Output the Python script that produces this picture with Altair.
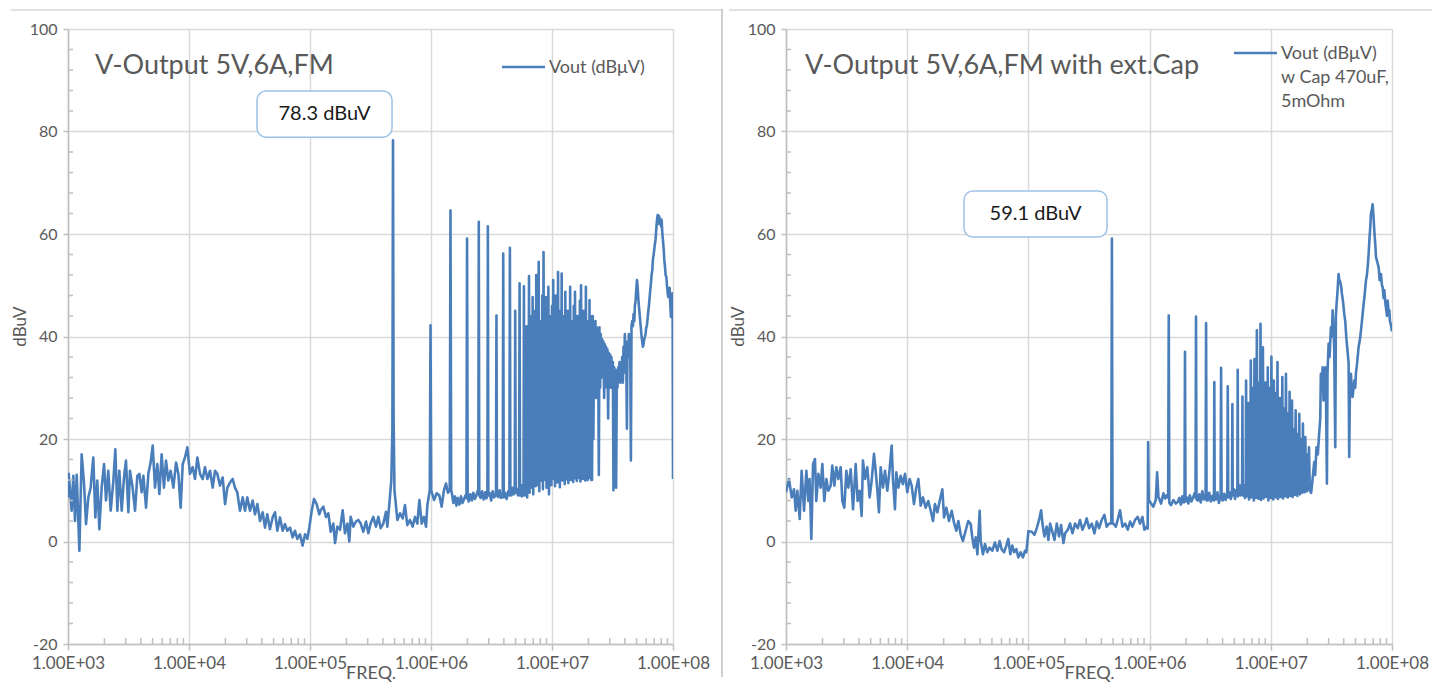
import altair as alt
import pandas as pd

FONT = "Lato"
TXT = "#595959"
BLUE = "#4a7ebb"
GRID = "#d9d9d9"
AXC = "#bfbfbf"
W_L, W_R, H = 605, 606, 615

# ---------------- axis tick values ----------------
x_decades = [1e3, 1e4, 1e5, 1e6, 1e7, 1e8]
x_minor = [2e3, 3e3, 4e3, 5e3, 6e3, 7e3, 8e3, 9e3,
           2e4, 3e4, 4e4, 5e4, 6e4, 7e4, 8e4, 9e4,
           2e5, 3e5, 4e5, 5e5, 6e5, 7e5, 8e5, 9e5,
           2e6, 3e6, 4e6, 5e6, 6e6, 7e6, 8e6, 9e6,
           2e7, 3e7, 4e7, 5e7, 6e7, 7e7, 8e7, 9e7]
y_major = [-20, 0, 20, 40, 60, 80, 100]
y_minor = [-16, -12, -8, -4, 4, 8, 12, 16, 24, 28, 32, 36, 44, 48, 52, 56,
           64, 68, 72, 76, 84, 88, 92, 96]

# ---------------- LEFT chart: (log10 freq, dBuV) ----------------
left_1k_100k = [(3.000,8.6),(3.006,13.2),(3.030,6.0),(3.044,12.8),(3.058,4.0),(3.072,13.0),(3.094,-1.8),(3.113,17.0),
    (3.132,11.5),(3.149,3.4),(3.168,8.6),(3.187,10.5),(3.209,16.4),(3.226,4.7),(3.242,11.9),(3.259,2.4),(3.278,10.5),
    (3.298,15.1),(3.314,8.0),(3.333,13.8),(3.353,6.0),(3.375,11.9),(3.391,18.0),(3.408,6.0),(3.424,13.8),(3.444,6.0),
    (3.463,12.5),(3.479,15.8),(3.499,5.7),(3.512,13.8),(3.534,10.5),(3.554,6.0),(3.573,12.8),(3.590,13.2),(3.609,9.6),
    (3.623,12.8),(3.645,6.6),(3.664,13.2),(3.683,15.4),(3.700,18.7),(3.719,10.5),(3.738,15.1),(3.755,9.3),(3.774,17.0),
    (3.793,10.5),(3.810,15.8),(3.829,11.9),(3.848,13.8),(3.871,10.5),(3.893,15.4),(3.912,13.2),(3.931,6.6),(3.948,15.1),
    (3.967,16.4),(3.986,18.4),(4.008,13.2),(4.030,14.5),(4.050,12.2),(4.069,16.4),(4.091,13.2),(4.113,12.2),(4.132,14.5),
    (4.152,12.2),(4.174,13.8),(4.196,10.5),(4.215,13.8),(4.234,13.2),(4.256,10.9),(4.278,12.5),(4.298,7.3),(4.317,10.5),
    (4.339,11.5),(4.361,12.2),(4.380,10.5),(4.399,9.6),(4.421,6.0),(4.444,8.6),(4.463,6.0),(4.482,8.6),(4.504,6.0),
    (4.526,8.0),(4.545,5.3),(4.565,7.3),(4.587,4.0),(4.609,5.7),(4.628,2.7),(4.647,5.3),(4.669,2.4),(4.691,4.7),
    (4.711,5.7),(4.730,2.1),(4.752,4.7),(4.774,2.1),(4.793,3.4),(4.813,2.1),(4.835,2.7),(4.857,0.8),(4.876,2.1),
    (4.895,0.5),(4.917,1.4),(4.939,-0.8),(4.959,1.4),(4.978,0.5),(4.994,2.7),(5.014,6.0),(5.033,8.3),(5.055,7.3),
    (5.077,5.3)]
left_100k_1M = [(5.088,6.1),(5.110,6.8),(5.132,4.8),(5.152,5.5),(5.171,1.9),(5.193,3.5),(5.207,-0.3),(5.226,2.9),
    (5.248,2.3),(5.270,6.1),(5.289,1.6),(5.309,3.5),(5.325,0.0),(5.336,4.8),(5.358,2.9),(5.380,3.9),(5.399,4.2),
    (5.419,3.5),(5.441,1.9),(5.463,3.9),(5.482,1.6),(5.501,3.5),(5.523,4.8),(5.545,2.9),(5.565,4.8),(5.584,2.6),
    (5.606,3.5),(5.628,5.8),(5.639,2.9),(5.656,7.4),(5.672,11.9),(5.681,22.0),(5.686,78.3),(5.691,24.0),(5.698,10.0),
    (5.722,4.2),(5.744,5.5),(5.766,4.5),(5.785,7.1),(5.804,3.2),(5.826,4.2),(5.848,2.9),(5.868,4.8),(5.887,3.5),
    (5.904,8.1),(5.923,3.5),(5.942,4.8),(5.959,2.9),(5.970,7.1),(5.990,10.0),(5.996,42.2),(6.002,10.0)]
left_1M_6M = [(6.025,8.1),(6.047,9.4),(6.069,9.0),(6.088,6.8),(6.107,10.0),(6.124,11.3),(6.140,9.5),(6.155,10.0),
    (6.161,64.6),(6.167,10.0),(6.172,9.5),(6.185,7.5),(6.198,8.8),(6.210,7.0),(6.222,8.5),(6.235,7.2),(6.248,8.8),
    (6.260,7.5),(6.272,8.2),(6.285,9.0),(6.293,8.5),(6.298,59.1),(6.303,8.5),(6.312,7.8),(6.325,9.2),(6.338,8.0),
    (6.350,9.5),(6.362,8.3),(6.375,9.0),(6.388,10.0),(6.391,9.8),(6.395,62.4),(6.399,9.0),(6.410,8.5),(6.422,9.8),
    (6.435,8.2),(6.448,9.6),(6.458,8.4),(6.466,9.0),(6.470,61.5),(6.474,9.0),(6.485,9.5),(6.497,8.0),(6.510,9.8),
    (6.522,8.6),(6.537,9.3),(6.541,44.1),(6.545,9.0),(6.555,8.7),(6.567,10.0),(6.578,8.5),(6.593,9.0),(6.597,56.2),
    (6.601,8.6),(6.612,9.5),(6.625,8.3),(6.638,9.8),(6.648,9.0),(6.652,57.3),(6.656,9.5),(6.665,9.0),(6.675,10.5),
    (6.685,9.2),(6.692,10.0),(6.696,45.0),(6.700,9.5),(6.708,10.3),(6.718,9.0),(6.728,10.0),(6.732,50.4),(6.736,9.0),
    (6.745,11.0),(6.752,8.8),(6.760,10.5),(6.765,9.5),(6.768,49.8),(6.771,9.0)]
left_6M_21M = [(6.775,9.0),(6.780,30),(6.785,11.5),(6.790,42),(6.795,8.6),(6.800,35),(6.805,12.0),(6.810,51.8),
    (6.815,9.5),(6.820,38),(6.825,13.0),(6.830,44),(6.835,10.5),(6.840,47.7),(6.845,9.2),(6.850,36),(6.855,12.5),
    (6.860,45),(6.865,10.8),(6.870,52),(6.875,14.0),(6.880,40),(6.885,11.0),(6.890,54.6),(6.895,9.8),(6.900,43),
    (6.905,13.5),(6.910,38),(6.915,11.8),(6.920,48),(6.925,10.2),(6.930,56.5),(6.935,15.0),(6.940,42),(6.945,12.0),
    (6.950,47.7),(6.955,10.5),(6.960,36),(6.965,13.2),(6.970,49.7),(6.975,9.2),(6.980,44),(6.985,12.4),(6.990,40),
    (6.995,11.0),(7.000,46),(7.005,14.5),(7.010,51),(7.015,12.2),(7.020,43),(7.025,10.8),(7.030,48),(7.035,13.6),
    (7.040,39),(7.045,11.5),(7.050,52.6),(7.055,12.8),(7.060,45),(7.065,10.6),(7.070,41),(7.075,14.8),(7.080,52.3),
    (7.085,11.9),(7.090,44),(7.095,12.6),(7.100,38),(7.105,11.2),(7.110,48.7),(7.115,13.8),(7.120,42),(7.125,12.1),
    (7.130,45),(7.135,11.4),(7.140,37),(7.145,14.2),(7.150,49.7),(7.155,12.0),(7.160,43),(7.165,13.0),(7.170,40),
    (7.175,11.6),(7.180,46),(7.185,15.5),(7.190,48.7),(7.195,12.3),(7.200,41),(7.205,11.8),(7.210,44),(7.215,13.9),
    (7.220,38),(7.225,12.4),(7.230,47),(7.235,11.7),(7.240,50),(7.245,14.0),(7.250,42),(7.255,12.2),(7.260,45),
    (7.265,13.3),(7.270,39),(7.275,11.9),(7.280,49.7),(7.285,12.7),(7.290,43),(7.295,12.0),(7.300,40),(7.305,13.5),
    (7.310,47.1),(7.315,12.4),(7.320,44),(7.325,12.0)]
left_21M_100M = [(7.331,12.0),(7.337,44.0),(7.342,20.0),(7.348,42.0),(7.353,30.0),(7.359,43.0),(7.365,28.0),
    (7.370,41.8),(7.376,33.0),(7.381,40.0),(7.387,13.0),(7.392,41.8),(7.398,30.0),(7.403,40.5),(7.409,32.0),
    (7.414,39.5),(7.420,34.0),(7.425,39.0),(7.431,28.0),(7.436,38.5),(7.442,33.0),(7.447,38.0),(7.453,30.0),
    (7.458,37.5),(7.464,24.0),(7.469,36.8),(7.475,31.0),(7.480,36.5),(7.486,30.0),(7.491,36.0),(7.497,33.0),
    (7.503,35.0),(7.508,10.0),(7.514,34.0),(7.519,28.0),(7.525,33.5),(7.530,10.5),(7.536,33.0),(7.541,30.0),
    (7.547,34.0),(7.552,32.0),(7.558,35.0),(7.564,31.0),(7.569,33.0),(7.575,32.7),(7.580,36.0),(7.586,31.0),
    (7.591,38.0),(7.597,33.0),(7.602,40.5),(7.608,34.0),(7.613,38.0),(7.619,22.0),(7.624,39.0),(7.630,36.0),
    (7.635,40.5),(7.641,38.0),(7.646,40.0),(7.652,15.8),(7.657,42.0),(7.663,43.0),(7.669,42.0),(7.674,44.4),
    (7.680,43.0),(7.685,46.0),(7.691,47.0),(7.696,49.0),(7.702,51.0),(7.707,50.0),(7.713,47.5),(7.718,46.0),
    (7.724,44.4),(7.729,43.0),(7.735,41.5),(7.740,40.0),(7.746,39.0),(7.751,38.0),(7.757,38.5),(7.762,39.5),
    (7.768,40.0),(7.773,40.5),(7.779,41.8),(7.784,42.0),(7.790,43.5),(7.796,45.0),(7.801,46.0),(7.807,47.7),
    (7.812,49.0),(7.818,50.5),(7.823,52.0),(7.829,53.0),(7.834,55.0),(7.840,56.0),(7.845,57.0),(7.851,58.1),
    (7.856,59.0),(7.862,61.0),(7.867,62.5),(7.873,63.7),(7.878,62.0),(7.884,63.5),(7.890,62.0),(7.895,63.0),
    (7.901,61.5),(7.906,62.7),(7.912,60.0),(7.917,58.8),(7.923,57.0),(7.928,55.0),(7.934,53.6),(7.939,52.0),
    (7.945,51.6),(7.950,50.0),(7.956,48.5),(7.961,47.7),(7.967,49.0),(7.972,49.5),(7.978,46.0),(7.983,43.8),
    (7.989,48.0),(7.994,48.4),(7.997,44.0),(8.000,12.2)]

# ---------------- RIGHT chart: (log10 freq, dBuV) ----------------
right_1k_100k = [(3.000,9.6),(3.025,12.2),(3.047,8.6),(3.066,10.2),(3.080,6.0),(3.094,9.9),(3.113,4.4),(3.129,13.8),
    (3.149,6.0),(3.168,13.8),(3.184,7.9),(3.195,12.2),(3.209,0.5),(3.223,15.1),(3.239,16.1),(3.250,7.9),(3.267,13.2),
    (3.286,10.5),(3.300,15.1),(3.316,7.9),(3.333,12.2),(3.349,9.9),(3.369,10.9),(3.382,14.8),(3.399,10.9),(3.415,14.5),
    (3.432,12.2),(3.451,14.5),(3.465,7.9),(3.481,6.6),(3.498,13.8),(3.514,10.5),(3.534,14.1),(3.553,6.3),(3.575,15.1),
    (3.591,7.9),(3.608,9.9),(3.624,5.0),(3.635,15.8),(3.652,12.2),(3.671,14.5),(3.690,8.6),(3.707,11.9),(3.726,17.1),
    (3.740,13.8),(3.754,9.9),(3.767,5.7),(3.781,14.5),(3.800,10.5),(3.817,13.8),(3.836,9.9),(3.855,14.1),(3.872,18.7),
    (3.883,11.9),(3.899,6.3),(3.910,13.5),(3.927,10.5),(3.946,12.8),(3.965,11.2),(3.982,13.2),(4.001,9.6),(4.020,12.2),
    (4.037,10.9),(4.056,7.3),(4.075,10.5),(4.092,12.2),(4.111,7.0),(4.130,8.6),(4.152,6.6),(4.174,7.9),(4.194,6.0),
    (4.213,4.0),(4.229,7.3),(4.249,5.7),(4.268,7.9),(4.290,10.2),(4.304,4.7),(4.323,6.6),(4.345,4.0),(4.367,6.0),
    (4.386,3.7),(4.405,2.1),(4.422,4.0),(4.441,1.4),(4.460,0.1),(4.482,2.1),(4.504,4.0),(4.524,3.4),(4.537,0.8),
    (4.551,-1.2),(4.565,0.8),(4.579,-2.5),(4.598,6.0),(4.606,0.1),(4.625,-2.5),(4.642,-0.5),(4.661,-2.1),(4.680,-1.2),
    (4.702,-1.8),(4.724,-0.2),(4.744,-1.8),(4.763,0.1),(4.779,-1.5),(4.799,-2.1),(4.818,-0.8),(4.834,0.5),(4.851,-2.5),
    (4.867,-0.8),(4.884,-2.1),(4.901,-1.5),(4.917,-3.1),(4.936,-2.1),(4.955,-3.1),(4.972,-1.8),(4.983,-2.1)]
right_100k_1M = [(5.000,2.0),(5.028,1.9),(5.050,1.3),(5.069,2.6),(5.088,4.2),(5.105,6.1),(5.116,3.5),(5.132,1.0),
    (5.151,2.9),(5.165,0.3),(5.179,3.5),(5.193,2.3),(5.215,0.3),(5.234,3.5),(5.253,1.0),(5.270,3.2),(5.289,-0.3),
    (5.303,1.6),(5.325,2.3),(5.344,3.5),(5.363,1.6),(5.385,3.5),(5.407,2.6),(5.426,4.2),(5.446,2.3),(5.468,3.5),
    (5.481,4.5),(5.501,2.6),(5.523,3.5),(5.545,1.6),(5.564,3.9),(5.583,2.6),(5.605,4.2),(5.627,5.2),(5.646,2.9),
    (5.666,3.5),(5.684,3.5),(5.689,59.1),(5.694,3.5),(5.701,3.5),(5.721,2.9),(5.737,4.2),(5.756,6.1),(5.776,2.9),
    (5.798,3.5),(5.820,2.3),(5.839,3.9),(5.858,2.9),(5.880,4.2),(5.902,4.8),(5.921,3.5),(5.941,4.8),(5.957,2.3),
    (5.976,2.9),(5.984,2.5),(5.988,19.4),(5.993,8.1),(6.012,7.4),(6.031,6.8),(6.051,8.1),(6.062,13.5),(6.073,8.7),
    (6.095,7.4),(6.114,9.4),(6.128,8.4),(6.141,9.0),(6.153,8.5),(6.158,44.1),(6.163,7.5),(6.177,7.1),(6.196,8.1),
    (6.216,7.4),(6.232,7.7)]
right_1M_6M = [(6.245,8.5),(6.258,7.2),(6.270,8.8),(6.282,7.6),(6.288,8.0),(6.292,37.0),(6.296,7.8),(6.308,8.6),
    (6.320,7.4),(6.332,9.0),(6.345,7.8),(6.358,8.5),(6.370,9.4),(6.379,8.6),(6.383,43.9),(6.387,8.2),(6.398,8.0),
    (6.410,9.2),(6.422,7.6),(6.435,9.8),(6.447,8.2),(6.458,9.0),(6.462,8.4),(6.466,42.6),(6.470,8.0),(6.480,8.0),
    (6.492,9.5),(6.505,7.8),(6.518,8.9),(6.531,8.0),(6.534,31.1),(6.537,8.2),(6.548,8.2),(6.560,9.6),(6.572,7.5),
    (6.586,9.0),(6.590,33.9),(6.594,8.3),(6.603,8.0),(6.615,9.3),(6.627,8.1),(6.641,9.5),(6.645,30.3),(6.649,8.6),
    (6.660,9.6),(6.670,8.3),(6.680,9.2),(6.683,26.8),(6.686,9.0),(6.695,10.2),(6.705,8.3),(6.715,10.0),(6.724,9.2),
    (6.727,33.5),(6.730,8.8),(6.740,11.0),(6.750,9.0),(6.760,11.0),(6.763,9.5),(6.766,28.3),(6.769,9.0),(6.778,11.0),
    (6.786,8.5),(6.793,9.4),(6.796,31.4)]
right_6M_21M = [(6.800,8.8),(6.805,22),(6.810,9.5),(6.815,27),(6.820,8.2),(6.825,19),(6.830,10.0),(6.835,35.3),
    (6.840,8.6),(6.845,24),(6.850,9.2),(6.855,30),(6.860,8.0),(6.865,35.6),(6.870,9.8),(6.875,26),(6.880,8.5),
    (6.885,41.2),(6.890,10.4),(6.895,31),(6.900,8.3),(6.905,28),(6.910,9.0),(6.915,42.5),(6.920,8.1),(6.925,33),
    (6.930,9.6),(6.935,37.9),(6.940,8.4),(6.945,27),(6.950,10.0),(6.955,31),(6.960,8.7),(6.965,24),(6.970,9.3),
    (6.975,34),(6.980,8.0),(6.985,28),(6.990,9.7),(6.995,30),(7.000,8.5),(7.005,36.1),(7.010,9.1),(7.015,26),
    (7.020,8.2),(7.025,31.4),(7.030,9.9),(7.035,23),(7.040,8.6),(7.045,29),(7.050,9.4),(7.055,35),(7.060,8.3),
    (7.065,25),(7.070,10.1),(7.075,28),(7.080,8.7),(7.085,22),(7.090,9.2),(7.095,32.1),(7.100,8.4),(7.105,26),
    (7.110,9.8),(7.115,23),(7.120,8.8),(7.125,32.7),(7.130,9.5),(7.135,25),(7.140,8.6),(7.145,21),(7.150,10.2),
    (7.155,29.2),(7.160,8.9),(7.165,23),(7.170,9.6),(7.175,27.5),(7.180,8.7),(7.185,19),(7.190,10.0),(7.195,22),
    (7.200,9.1),(7.205,25.6),(7.210,9.7),(7.215,18),(7.220,8.9),(7.225,21),(7.230,10.3),(7.235,24.9),(7.240,9.2),
    (7.245,17),(7.250,9.8),(7.255,20),(7.260,9.5),(7.265,23),(7.270,10.4),(7.275,16),(7.280,9.6),(7.285,20.4),
    (7.290,10.1),(7.295,15),(7.300,9.8),(7.305,17),(7.310,10.6),(7.315,18.4)]
right_21M_100M = [(7.322,10.0),(7.333,9.5),(7.344,12.0),(7.358,15.5),(7.366,13.0),(7.377,18.4),(7.388,17.0),
    (7.399,21.0),(7.408,24.0),(7.413,32.7),(7.421,30.0),(7.427,34.0),(7.435,27.5),(7.441,29.0),(7.449,34.0),
    (7.455,30.0),(7.463,11.3),(7.468,33.0),(7.477,38.6),(7.485,36.0),(7.496,41.8),(7.504,40.0),(7.510,45.1),
    (7.518,41.0),(7.523,37.9),(7.532,18.4),(7.537,44.0),(7.543,46.4),(7.551,49.0),(7.559,52.2),(7.565,51.0),
    (7.570,50.9),(7.579,50.0),(7.587,48.3),(7.595,47.0),(7.606,44.4),(7.614,43.0),(7.625,39.2),(7.634,37.0),
    (7.642,34.7),(7.647,16.5),(7.653,30.0),(7.661,32.7),(7.669,29.0),(7.675,28.2),(7.683,30.0),(7.689,31.4),
    (7.697,30.0),(7.702,32.7),(7.713,35.0),(7.724,37.9),(7.736,39.5),(7.744,41.2),(7.752,43.0),(7.763,45.7),
    (7.774,48.0),(7.785,50.9),(7.793,52.0),(7.799,53.5),(7.807,56.0),(7.813,58.7),(7.821,61.5),(7.826,63.9),
    (7.835,65.0),(7.840,65.8),(7.846,64.0),(7.854,60.6),(7.862,58.0),(7.868,55.5),(7.879,54.5),(7.890,53.5),
    (7.898,51.0),(7.909,52.2),(7.917,50.0),(7.923,49.6),(7.931,47.5),(7.937,49.0),(7.945,46.5),(7.950,45.7),
    (7.959,44.0),(7.964,47.0),(7.972,45.0),(7.978,45.1),(7.983,43.0),(7.989,42.5),(8.000,41.0)]

# ---------------- texts ----------------
left_title = "V-Output 5V,6A,FM"
right_title = "V-Output 5V,6A,FM with ext.Cap"
left_legend = "Vout (dBμV)"
right_legend = "Vout (dBμV)\nw Cap 470uF,\n5mOhm"
# callout boxes: (log10 f start, log10 f end, dB top, dB bottom, label)
left_callout = (4.562, 5.678, 87.9, 78.9, "78.3 dBuV")
right_callout = (4.469, 5.649, 68.4, 59.4, "59.1 dBuV")


def to_frame(*segments):
    pts = [p for seg in segments for p in seg]
    return pd.DataFrame({"f": [10 ** lf for lf, _ in pts], "v": [d for _, d in pts]})


XS = alt.Scale(type="log", domain=[1e3, 1e8], nice=False)
YS = alt.Scale(domain=[-20, 100], nice=False, zero=False)
ONE = pd.DataFrame({"a": [0]})

X_AXIS = alt.Axis(values=x_decades,
                  labelExpr="'1.00E+0' + format(round(log(datum.value)/LN10), 'd')",
                  grid=True, gridColor=GRID, gridWidth=1.5,
                  domainColor=AXC, domainWidth=1.5, tickColor=AXC, tickWidth=1.5, tickSize=6,
                  labelFont=FONT, labelFontSize=17, labelColor=TXT, labelPadding=5,
                  labelFlush=False, labelOverlap=False,
                  title="FREQ.", titleFont=FONT, titleFontSize=18, titleFontWeight="normal",
                  titleColor=TXT, titlePadding=-7)
Y_AXIS = alt.Axis(values=y_major, labelExpr="'' + datum.value",
                  grid=True, gridColor=GRID, gridWidth=1.5,
                  domainColor=AXC, domainWidth=1.5, tickColor=AXC, tickWidth=1.5, tickSize=5,
                  labelFont=FONT, labelFontSize=16, labelColor=TXT, labelPadding=6,
                  labelFlush=False, labelOverlap=False,
                  title="dBuV", titleFont=FONT, titleFontSize=17, titleFontWeight="normal",
                  titleColor=TXT, titlePadding=0, titleY=297)


def XE(field="f"):
    return alt.X(f"{field}:Q", scale=XS, axis=X_AXIS)


def YE(field="v"):
    return alt.Y(f"{field}:Q", scale=YS, axis=Y_AXIS)


def panel(df, w, title_text, title_x, legend_text, leg_x, leg_y, callout, frame_x, frame_x2, divider):
    line = alt.Chart(df).mark_line(color=BLUE, strokeWidth=2.6, clip=True,
                                   strokeJoin="round").encode(x=XE(), y=YE())
    xminor = alt.Chart(pd.DataFrame({"f": x_minor})).mark_rule(color=AXC, strokeWidth=1.5).encode(
        x=XE(), y=alt.value(H), y2=alt.value(H - 6))
    yminor = alt.Chart(pd.DataFrame({"v": y_minor})).mark_rule(color=AXC, strokeWidth=1.5).encode(
        y=YE(), x=alt.value(0), x2=alt.value(5))

    title = alt.Chart(ONE).mark_text(align="left", baseline="middle", font=FONT, fontSize=27,
                                     color=TXT).encode(
        x=alt.value(title_x), y=alt.value(37), text=alt.value(title_text))

    leg_line = alt.Chart(ONE).mark_rule(color=BLUE, strokeWidth=2.5).encode(
        x=alt.value(leg_x), x2=alt.value(leg_x + 43), y=alt.value(leg_y))
    leg_text = alt.Chart(ONE).mark_text(align="left", baseline="alphabetic", font=FONT, fontSize=18,
                                        color=TXT, lineBreak="\n", lineHeight=24).encode(
        x=alt.value(leg_x + 47), y=alt.value(leg_y + 6), text=alt.value(legend_text))

    l0, l1, vt, vb, lab = callout
    bdf = pd.DataFrame({"f": [10 ** l0], "f2": [10 ** l1], "v": [vt], "v2": [vb]})
    tdf = pd.DataFrame({"f": [10 ** ((l0 + l1) / 2)], "v": [(vt + vb) / 2], "t": [lab]})
    box = alt.Chart(bdf).mark_rect(fill="white", stroke="#9dc3e6", strokeWidth=1.5,
                                   cornerRadius=9).encode(x=XE(), x2="f2:Q", y=YE(), y2="v2:Q")
    box_text = alt.Chart(tdf).mark_text(font=FONT, fontSize=20, color="#1a1a1a",
                                        align="center", baseline="middle").encode(
        x=XE(), y=YE(), text="t:N")

    frame_top = alt.Chart(ONE).mark_rule(color=GRID, strokeWidth=1.5).encode(
        x=alt.value(frame_x), x2=alt.value(frame_x2), y=alt.value(-19))

    layers = [frame_top, line, xminor, yminor, title, leg_line, leg_text, box, box_text]
    if divider:
        layers.append(alt.Chart(ONE).mark_rule(color=AXC, strokeWidth=1.5).encode(
            x=alt.value(654), y=alt.value(-20), y2=alt.value(H + 33)))
    return alt.layer(*layers).properties(width=w, height=H)


left = panel(to_frame(left_1k_100k, left_100k_1M, left_1M_6M, left_6M_21M, left_21M_100M),
             W_L, left_title, 27, left_legend, 434, 38, left_callout, -57, 654, True)
right = panel(to_frame(right_1k_100k, right_100k_1M, right_1M_6M, right_6M_21M, right_21M_100M),
              W_R, right_title, 19, right_legend, 448, 24, right_callout, -57, 646, False)

chart = alt.hconcat(left, right, spacing=5).properties(
    padding={"left": 2, "top": 0, "right": 0, "bottom": 0}, background="white"
).configure_view(stroke=None)

chart.save("out.html", embed_options={"renderer": "svg", "actions": False})
